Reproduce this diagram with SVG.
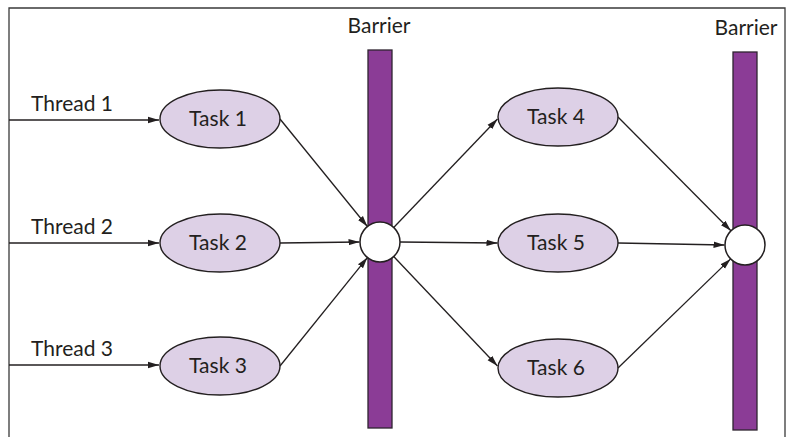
<svg xmlns="http://www.w3.org/2000/svg" width="793" height="437" viewBox="0 0 793 437">
<style>
  text { font-family: Lato, "Open Sans", "Liberation Sans", sans-serif; font-size: 21px; fill: #231f20; }
  .frame { fill: none; stroke: #3a3a3a; stroke-width: 1.3; }
  .bar { fill: #8b3c96; stroke: #2e2430; stroke-width: 1.3; }
  .task { fill: #ddd0e6; stroke: #231f20; stroke-width: 1.4; }
  .join { fill: #ffffff; stroke: #231f20; stroke-width: 1.5; }
  .conn line { stroke: #231f20; stroke-width: 1.3; marker-end: url(#arr); }
</style>
<defs>
  <marker id="arr" markerWidth="11" markerHeight="8" refX="11" refY="4" orient="auto" markerUnits="userSpaceOnUse">
    <path d="M0,0.8 L11,4 L0,7.2 Z" fill="#231f20"/>
  </marker>
</defs>
<rect width="793" height="437" fill="#ffffff"/>
<path class="frame" d="M9,437 V8 H785 V437"/>

<g id="barrier1">
  <rect class="bar" x="368" y="50" width="24" height="378"/>
  <text x="379" y="33" text-anchor="middle">Barrier</text>
</g>
<g id="barrier2">
  <rect class="bar" x="733" y="52" width="24" height="378"/>
  <text x="746" y="35" text-anchor="middle">Barrier</text>
</g>

<g id="thread1"><text x="31" y="111">Thread 1</text></g>
<g id="thread2"><text x="31" y="234">Thread 2</text></g>
<g id="thread3"><text x="31" y="356">Thread 3</text></g>

<g id="task1"><ellipse class="task" cx="220" cy="119" rx="60" ry="29"/><text x="218" y="126" text-anchor="middle">Task 1</text></g>
<g id="task2"><ellipse class="task" cx="220" cy="243" rx="60" ry="29"/><text x="218" y="250" text-anchor="middle">Task 2</text></g>
<g id="task3"><ellipse class="task" cx="220" cy="366" rx="60" ry="29"/><text x="218" y="373" text-anchor="middle">Task 3</text></g>
<g id="task4"><ellipse class="task" cx="558" cy="117" rx="60" ry="29"/><text x="556" y="124" text-anchor="middle">Task 4</text></g>
<g id="task5"><ellipse class="task" cx="558" cy="243" rx="60" ry="29"/><text x="556" y="250" text-anchor="middle">Task 5</text></g>
<g id="task6"><ellipse class="task" cx="558" cy="368" rx="60" ry="29"/><text x="556" y="375" text-anchor="middle">Task 6</text></g>

<g id="join1"><circle class="join" cx="380" cy="242" r="20"/></g>
<g id="join2"><circle class="join" cx="745" cy="245" r="20"/></g>

<g id="connectors" class="conn">
  <line x1="9" y1="120" x2="159" y2="120"/>
  <line x1="9" y1="243" x2="159" y2="243"/>
  <line x1="9" y1="365" x2="159" y2="365"/>
  <line x1="280" y1="119" x2="367.4" y2="226.5"/>
  <line x1="280" y1="243" x2="359.5" y2="242"/>
  <line x1="280" y1="366" x2="367.4" y2="257.6"/>
  <line x1="393.7" y1="227.5" x2="497.5" y2="119"/>
  <line x1="400" y1="242" x2="497.5" y2="243"/>
  <line x1="393.7" y1="256.5" x2="497.5" y2="366"/>
  <line x1="618" y1="117" x2="730.9" y2="230.8"/>
  <line x1="618" y1="243" x2="724.5" y2="245"/>
  <line x1="618" y1="368" x2="730.6" y2="258.9"/>
</g>
</svg>
